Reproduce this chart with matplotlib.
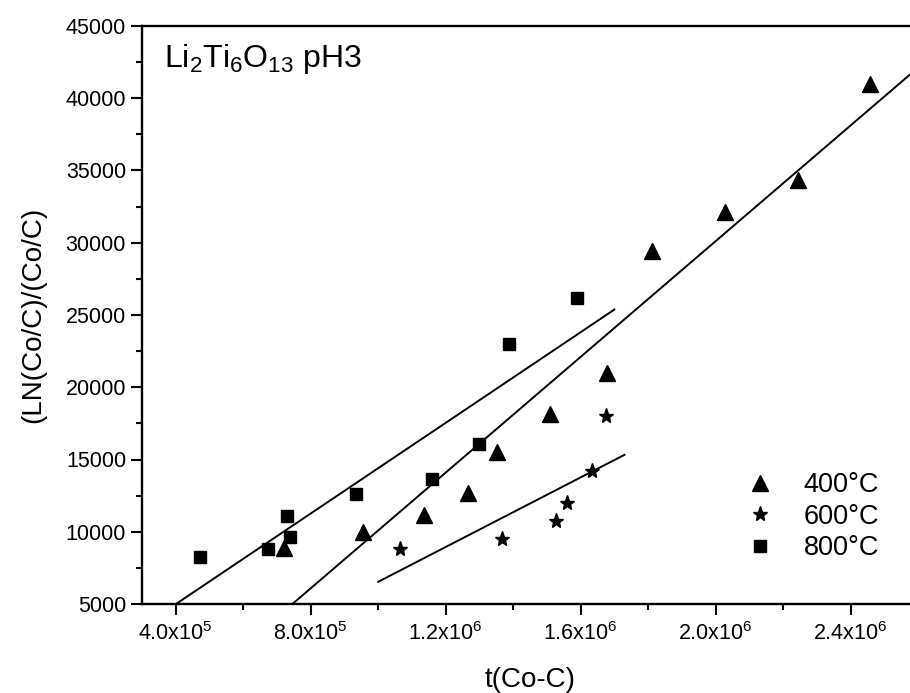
import numpy as np
import matplotlib
matplotlib.use("Agg")
import matplotlib.pyplot as plt
from matplotlib.ticker import MultipleLocator, FixedLocator, FixedFormatter

plt.rcParams['font.family'] = ['Liberation Sans', 'DejaVu Sans']
plt.rcParams['mathtext.default'] = 'regular'

# 400°C series (triangles)
x_400 = [7.22e5, 9.54e5, 1.137e6, 1.266e6, 1.352e6, 1.508e6, 1.678e6, 1.813e6, 2.028e6, 2.245e6, 2.458e6]
y_400 = [8900, 10000, 11150, 12700, 15550, 18150, 21000, 29400, 32100, 34350, 41000]

# 600°C series (stars)
x_600 = [1.065e6, 1.366e6, 1.527e6, 1.56e6, 1.635e6, 1.674e6]
y_600 = [8800, 9500, 10750, 12000, 14200, 18000]

# 800°C series (squares)
x_800 = [4.71e5, 6.72e5, 7.31e5, 7.39e5, 9.34e5, 1.161e6, 1.299e6, 1.389e6, 1.589e6]
y_800 = [8270, 8830, 11100, 9650, 12600, 13650, 16100, 23000, 26150]

# x range over which each linear fit is drawn
fit_range_400 = [7.0e5, 2.7e6]
fit_range_600 = [1.0e6, 1.73e6]
fit_range_800 = [3.5e5, 1.70e6]

x_ticks = [4.0e5, 8.0e5, 1.2e6, 1.6e6, 2.0e6, 2.4e6]
x_tick_labels = [r'4.0x10$^{5}$', r'8.0x10$^{5}$', r'1.2x10$^{6}$',
                 r'1.6x10$^{6}$', r'2.0x10$^{6}$', r'2.4x10$^{6}$']

fig = plt.figure(figsize=(9.1, 6.93), dpi=100)
ax = fig.add_axes([142 / 910, 1 - 604 / 693, 776 / 910, 578 / 693])

ax.plot(x_400, y_400, linestyle='none', marker='^', markersize=11, color='black', label='400°C')
ax.plot(x_600, y_600, linestyle='none', marker='*', markersize=11, color='black', label='600°C')
ax.plot(x_800, y_800, linestyle='none', marker='s', markersize=9, color='black', label='800°C')

# linear fits of each series
for xs, ys, rng in [(x_400, y_400, fit_range_400), (x_600, y_600, fit_range_600), (x_800, y_800, fit_range_800)]:
    slope, intercept = np.polyfit(xs, ys, 1)
    fx = np.array(rng)
    ax.plot(fx, slope * fx + intercept, color='black', linewidth=1.4)

ax.set_xlim(3.0e5, 2.6e6)
ax.set_ylim(5000, 45000)

ax.xaxis.set_major_locator(FixedLocator(x_ticks))
ax.xaxis.set_major_formatter(FixedFormatter(x_tick_labels))
ax.xaxis.set_minor_locator(MultipleLocator(2.0e5))
ax.yaxis.set_major_locator(MultipleLocator(5000))
ax.yaxis.set_minor_locator(MultipleLocator(2500))

ax.tick_params(which='major', direction='out', length=8, width=1.5, labelsize=15.5)
ax.tick_params(axis='x', which='major', pad=5)
ax.tick_params(which='minor', direction='out', length=4, width=1.5)
ax.tick_params(top=False, right=False)
for s in ['left', 'bottom', 'top']:
    ax.spines[s].set_linewidth(1.7)
ax.spines['right'].set_visible(False)

ax.set_xlabel('t(Co-C)', fontsize=20, labelpad=16)
ax.set_ylabel('(LN(Co/C)/(Co/C)', fontsize=20, labelpad=14)

ax.text(0.028, 0.972, r'Li$_2$Ti$_6$O$_{13}$ pH3', transform=ax.transAxes,
        fontsize=23, va='top', ha='left')

ax.legend(loc='lower right', bbox_to_anchor=(898 / 910, 1 - 580 / 693),
          bbox_transform=fig.transFigure, frameon=False, fontsize=19.5,
          handletextpad=0.6, labelspacing=0.2, borderpad=0.2)

fig.savefig('out.png', dpi=100)
